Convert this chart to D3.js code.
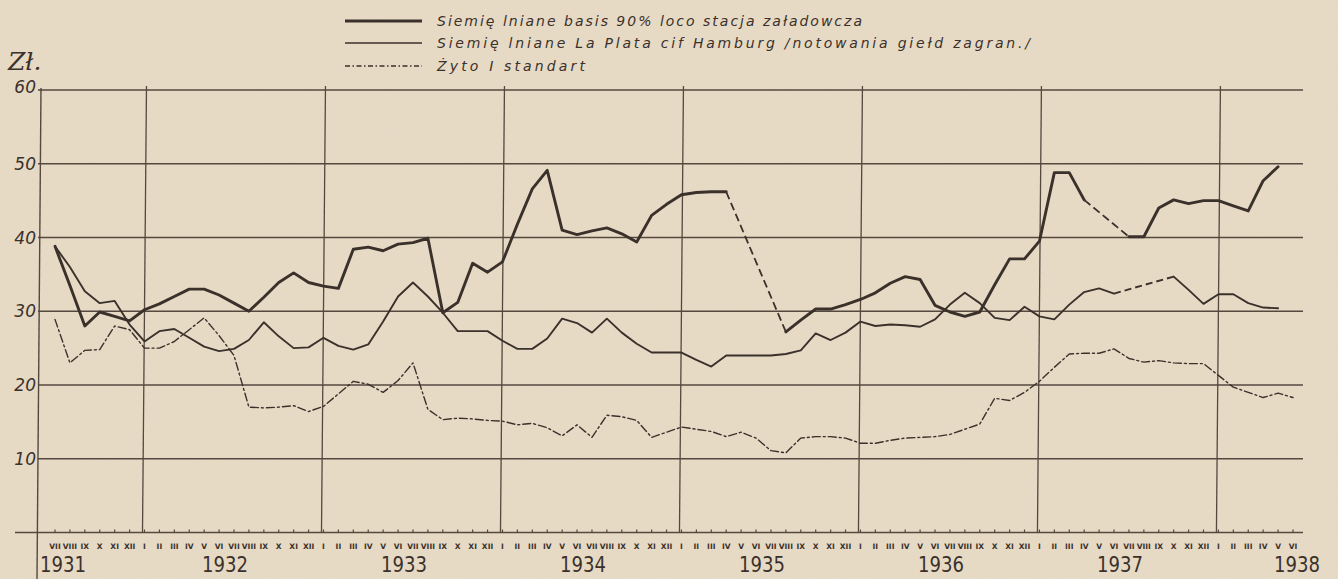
<!DOCTYPE html>
<html><head><meta charset="utf-8">
<script src="https://cdn.jsdelivr.net/npm/d3@7"></script>
<style>
html,body{margin:0;padding:0;background:#e8dcc8;}
svg{display:block;}
</style></head><body>
<svg id="c" width="1338" height="579"></svg>
<script>
// ---------------- DATA ----------------
const monthLabels = [
  "VII","VIII","IX","X","XI","XII",
  "I","II","III","IV","V","VI","VII","VIII","IX","X","XI","XII",
  "I","II","III","IV","V","VI","VII","VIII","IX","X","XI","XII",
  "I","II","III","IV","V","VI","VII","VIII","IX","X","XI","XII",
  "I","II","III","IV","V","VI","VII","VIII","IX","X","XI","XII",
  "I","II","III","IV","V","VI","VII","VIII","IX","X","XI","XII",
  "I","II","III","IV","V","VI","VII","VIII","IX","X","XI","XII",
  "I","II","III","IV","V","VI"
];
const yearLabels = ["1931","1932","1933","1934","1935","1936","1937","1938"];
const yTicks = [10, 20, 30, 40, 50, 60];
const unitLabel = "Zł.";
const legendLabels = [
  "Siemię lniane basis 90% loco stacja załadowcza",
  "Siemię lniane La Plata cif Hamburg /notowania giełd zagran./",
  "Żyto I standart"
];

// Siemię lniane basis 90% loco stacja załadowcza (thick line)
const flaxLoco = [
  38.8, 33.5, 28.0, 29.9, 29.3, 28.7,
  30.2, 31.0, 32.0, 33.0, 33.0, 32.2, 31.1, 30.0, 31.9, 33.9, 35.2, 33.9,
  33.4, 33.1, 38.4, 38.7, 38.2, 39.1, 39.3, 39.9, 29.8, 31.2, 36.5, 35.3,
  36.7, 41.8, 46.6, 49.1, 41.0, 40.4, 40.9, 41.3, 40.5, 39.4, 43.0, 44.5,
  45.8, 46.1, 46.2, 46.2, null, null, null, 27.2, 28.8, 30.3, 30.3, 30.9,
  31.6, 32.5, 33.8, 34.7, 34.3, 30.8, 29.9, 29.3, 29.9, 33.6, 37.1, 37.1,
  39.5, 48.8, 48.8, 45.1, null, null, 40.1, 40.1, 44.0, 45.1, 44.6, 45.0,
  45.0, 44.3, 43.6, 47.7, 49.6, null
];
// Siemię lniane La Plata cif Hamburg (thin line)
const flaxLaPlata = [
  38.8, 36.0, 32.7, 31.1, 31.4, 28.2,
  25.9, 27.3, 27.6, 26.4, 25.2, 24.6, 24.9, 26.1, 28.5, 26.6, 25.0, 25.1,
  26.4, 25.3, 24.8, 25.5, 28.6, 32.0, 33.9, 32.0, 29.8, 27.3, 27.3, 27.3,
  26.0, 24.9, 24.9, 26.3, 29.0, 28.4, 27.1, 29.0, 27.1, 25.6, 24.4, 24.4,
  24.4, 23.4, 22.5, 24.0, 24.0, 24.0, 24.0, 24.2, 24.7, 27.0, 26.1, 27.1,
  28.6, 28.0, 28.2, 28.1, 27.9, 28.9, 30.9, 32.5, 31.1, 29.1, 28.8, 30.6,
  29.3, 28.9, 30.9, 32.6, 33.1, 32.4, null, null, null, 34.7, 32.9, 31.0,
  32.3, 32.3, 31.1, 30.5, 30.4, null
];
// Żyto I standart (dash-dot line)
const rye = [
  28.9, 23.0, 24.7, 24.8, 28.0, 27.5,
  25.0, 25.0, 25.9, 27.5, 29.1, 26.7, 24.0, 17.0, 16.9, 17.0, 17.2, 16.4,
  17.1, 18.8, 20.5, 20.1, 19.0, 20.6, 23.0, 16.7, 15.3, 15.5, 15.4, 15.2,
  15.1, 14.6, 14.8, 14.2, 13.1, 14.6, 12.9, 15.9, 15.7, 15.2, 12.9, 13.6,
  14.3, 14.0, 13.7, 13.0, 13.6, 12.8, 11.1, 10.8, 12.8, 13.0, 13.0, 12.8,
  12.1, 12.1, 12.5, 12.8, 12.9, 13.0, 13.3, 14.0, 14.7, 18.2, 17.9, 19.0,
  20.5, 22.4, 24.2, 24.3, 24.3, 24.9, 23.6, 23.1, 23.3, 23.0, 22.9, 22.9,
  21.3, 19.7, 19.0, 18.3, 18.9, 18.3
];

// ---------------- DRAWING ----------------
const INK = "#3b312b";
const GRID = "#54483f";
const svg = d3.select("#c");

// paper texture
const defs = svg.append("defs");
const f = defs.append("filter").attr("id","paper").attr("x",0).attr("y",0).attr("width","100%").attr("height","100%");
f.append("feTurbulence").attr("type","fractalNoise").attr("baseFrequency","0.9").attr("numOctaves",2).attr("seed",3).attr("result","n");
f.append("feColorMatrix").attr("type","matrix")
  .attr("values","0 0 0 0 0.45  0 0 0 0 0.38  0 0 0 0 0.30  0 0 0 0.08 0");
svg.append("rect").attr("width",1338).attr("height",579).attr("fill","#e9dcc7");
svg.append("rect").attr("width",1338).attr("height",579).attr("filter","url(#paper)");

const x = d3.scaleLinear().domain([0, monthLabels.length - 1]).range([55, 1293]);
const y = d3.scaleLinear().domain([0, 60]).range([532.5, 90]);

const gridRight = 1303, axisLeft = 41;

// horizontal grid lines
svg.append("g").selectAll("line").data(yTicks).join("line")
  .attr("x1", axisLeft - 3).attr("x2", gridRight)
  .attr("y1", d => y(d)).attr("y2", d => y(d))
  .attr("stroke", GRID).attr("stroke-width", 1.4);

// baseline axis
svg.append("line").attr("x1", 15).attr("x2", gridRight)
  .attr("y1", y(0)).attr("y2", y(0)).attr("stroke", GRID).attr("stroke-width", 1.4);

// left axis
svg.append("line").attr("x1", axisLeft).attr("x2", axisLeft - 4)
  .attr("y1", y(60) - 2).attr("y2", 579).attr("stroke", GRID).attr("stroke-width", 1.4);

// year (January) vertical lines
const janIdx = monthLabels.map((m, i) => m === "I" ? i : -1).filter(i => i >= 0);
svg.append("g").selectAll("line").data(janIdx).join("line")
  .attr("x1", d => x(d) + 2).attr("x2", d => x(d) - 2)
  .attr("y1", y(60) - 4).attr("y2", y(0))
  .attr("stroke", GRID).attr("stroke-width", 1.3);

// month ticks
svg.append("g").selectAll("line").data(monthLabels.map((m, i) => i)).join("line")
  .attr("x1", d => x(d)).attr("x2", d => x(d))
  .attr("y1", y(0) - 3).attr("y2", y(0))
  .attr("stroke", GRID).attr("stroke-width", 1.2);

// month labels
svg.append("g").selectAll("text").data(monthLabels).join("text")
  .attr("x", (d, i) => x(i)).attr("y", 549)
  .attr("text-anchor", "middle")
  .attr("font-family", "DejaVu Sans").attr("font-weight", "bold")
  .attr("font-size", 7.5).attr("fill", INK)
  .text(d => d);

// year labels
const firstIdx = yearLabels.map((yr, k) => k === 0 ? 0 : janIdx[k - 1]);
svg.append("g").selectAll("text").data(yearLabels).join("text")
  .attr("x", (d, k) => {
    if (k === 0) return x(0) + 8;
    if (k === yearLabels.length - 1) return x(monthLabels.length - 1) + 4;
    return x(firstIdx[k] + 5.4);
  })
  .attr("y", 572)
  .attr("text-anchor", "middle")
  .attr("font-family", "DejaVu Sans").attr("font-size", 22)
  .attr("textLength", 46).attr("lengthAdjust", "spacingAndGlyphs")
  .attr("fill", INK)
  .text(d => d);

// y tick labels
svg.append("g").selectAll("text").data(yTicks).join("text")
  .attr("x", 36).attr("y", d => y(d) + (d === 60 ? 3 : 6))
  .attr("text-anchor", "end")
  .attr("font-family", "DejaVu Sans").attr("font-style", "italic").attr("font-size", 17)
  .attr("fill", INK)
  .text(d => d);

// unit label
svg.append("text").attr("x", 8).attr("y", 70)
  .attr("font-family", "DejaVu Serif").attr("font-style", "italic").attr("font-size", 25)
  .attr("fill", INK).text(unitLabel);

// series
const line = d3.line().defined(d => d != null).x((d, i) => x(i)).y(d => y(d));
function gaps(arr) {
  const segs = [];
  for (let i = 0; i < arr.length; i++) {
    if (arr[i] == null && i > 0 && arr[i - 1] != null) {
      let j = i;
      while (j < arr.length && arr[j] == null) j++;
      if (j < arr.length) segs.push([[i - 1, arr[i - 1]], [j, arr[j]]]);
      i = j;
    }
  }
  return segs;
}
const series = [
  { data: rye, width: 1.4, dash: "8,3,2,3", gapDash: null },
  { data: flaxLaPlata, width: 1.9, dash: null, gapDash: "7,4" },
  { data: flaxLoco, width: 2.9, dash: null, gapDash: "8,4", gapWidth: 1.8 }
];
series.forEach(s => {
  svg.append("path").attr("d", line(s.data))
    .attr("fill", "none").attr("stroke", INK).attr("stroke-width", s.width)
    .attr("stroke-linejoin", "round").attr("stroke-linecap", "round")
    .attr("stroke-dasharray", s.dash);
  if (s.gapDash) {
    gaps(s.data).forEach(g => {
      svg.append("line")
        .attr("x1", x(g[0][0])).attr("y1", y(g[0][1]))
        .attr("x2", x(g[1][0])).attr("y2", y(g[1][1]))
        .attr("stroke", INK).attr("stroke-width", s.gapWidth || s.width)
        .attr("stroke-dasharray", s.gapDash);
    });
  }
});

// legend
const legY = [21, 43, 66];
const legStyles = [
  { w: 2.9, dash: null }, { w: 1.7, dash: null }, { w: 1.4, dash: "5,2.5,1.5,2.5" }
];
const legLen = [425, 593, 148];
legendLabels.forEach((t, k) => {
  svg.append("line").attr("x1", 345).attr("x2", 422)
    .attr("y1", legY[k]).attr("y2", legY[k])
    .attr("stroke", INK).attr("stroke-width", legStyles[k].w)
    .attr("stroke-dasharray", legStyles[k].dash);
  svg.append("text").attr("x", 437).attr("y", legY[k] + 5)
    .attr("font-family", "DejaVu Sans").attr("font-style", "italic").attr("font-size", 14)
    .attr("textLength", legLen[k]).attr("lengthAdjust", "spacing")
    .attr("fill", INK).text(t);
});
</script>
</body></html>
